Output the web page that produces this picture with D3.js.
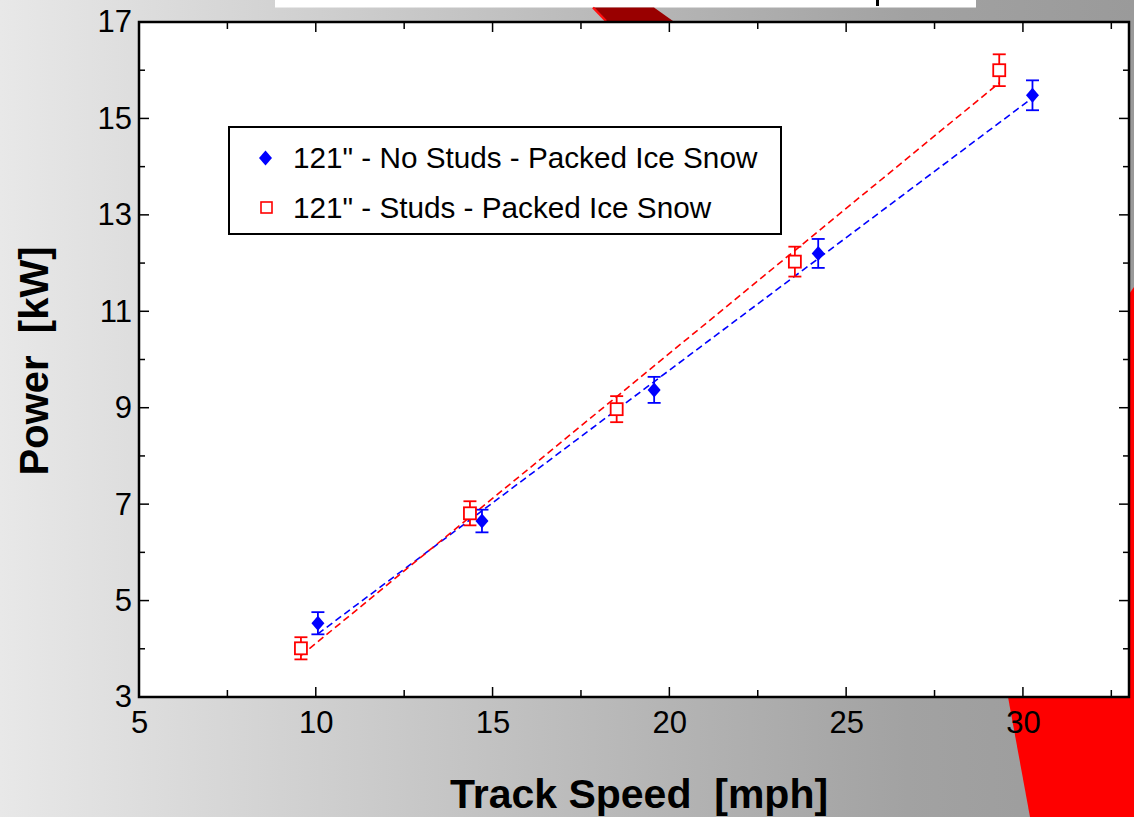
<!DOCTYPE html>
<html>
<head>
<meta charset="utf-8">
<script src="https://cdn.jsdelivr.net/npm/d3@7"></script>
<style>
  html, body { margin: 0; padding: 0; overflow: hidden; }
  svg { display: block; }
  text { font-family: "Liberation Sans", Arial, Helvetica, sans-serif; white-space: pre; }
</style>
</head>
<body>
<svg id="chart" width="1134" height="817"></svg>
<script>
// ---- data ----
const seriesNames = ['121" - No Studs - Packed Ice Snow', '121" - Studs - Packed Ice Snow'];
const speedNoStuds = [10.06, 14.70, 19.57, 24.21, 30.27];
const powerNoStuds = [4.53, 6.65, 9.37, 12.20, 15.48];
const errNoStuds   = [0.23, 0.235, 0.27, 0.30, 0.31];
const speedStuds   = [9.58, 14.36, 18.51, 23.55, 29.33];
const powerStuds   = [4.01, 6.81, 8.97, 12.03, 16.00];
const errStuds     = [0.23, 0.25, 0.27, 0.31, 0.33];
const xTickValues  = [5, 10, 15, 20, 25, 30];
const yTickValues  = [3, 5, 7, 9, 11, 13, 15, 17];
const xLabel = "Track Speed  [mph]";
const yLabel = "Power  [kW]";

(function () {
const W = 1134, H = 817;
const svg = d3.select("#chart");
const defs = svg.append("defs");
const grad = defs.append("linearGradient").attr("id", "bg").attr("x1", 0).attr("x2", 1).attr("y1", 0).attr("y2", 0);
grad.append("stop").attr("offset", 0).attr("stop-color", "#e8e8e8");
grad.append("stop").attr("offset", 0.35).attr("stop-color", "#c9c9c9");
grad.append("stop").attr("offset", 0.8).attr("stop-color", "#a2a2a2");
grad.append("stop").attr("offset", 1).attr("stop-color", "#9a9a9a");

svg.append("rect").attr("width", W).attr("height", H).attr("fill", "url(#bg)");

// decorative slide elements
svg.append("rect").attr("x", 275).attr("y", 0).attr("width", 701).attr("height", 7.5).attr("fill", "#ffffff");
svg.append("rect").attr("x", 876).attr("y", 0).attr("width", 3).attr("height", 6).attr("fill", "#000");
svg.append("path").attr("d", "M593,7.5 L654,7.5 L673,21 L606,21 Z").attr("fill", "#990000");
svg.append("path").attr("d", "M593,7.5 L606,21").attr("stroke", "#ff1010").attr("stroke-width", 2.5);
svg.append("path").attr("d", "M1134,287 L1127,297 L1008,697 L1030,817 L1134,817 Z").attr("fill", "#fe0000");

// ---- scales ----
const pL = 139, pR = 1129, pT = 22, pB = 697;
const x = d3.scaleLinear().domain([5, 33]).range([pL, pR]);
const y = d3.scaleLinear().domain([3, 17]).range([pB, pT]);

svg.append("rect").attr("x", pL).attr("y", pT).attr("width", pR - pL).attr("height", pB - pT)
  .attr("fill", "#fff");

// ticks (inward on all four sides)
const xMinor = d3.range(7.5, 33, 5);
const yMinor = d3.range(4, 17, 2);
const tickG = svg.append("g").attr("stroke", "#000").attr("stroke-width", 1.5);
function xt(vals, len) {
  vals.forEach(v => {
    tickG.append("line").attr("x1", x(v)).attr("x2", x(v)).attr("y1", pB).attr("y2", pB - len);
    tickG.append("line").attr("x1", x(v)).attr("x2", x(v)).attr("y1", pT).attr("y2", pT + len);
  });
}
function yt(vals, len) {
  vals.forEach(v => {
    tickG.append("line").attr("y1", y(v)).attr("y2", y(v)).attr("x1", pL).attr("x2", pL + len);
    tickG.append("line").attr("y1", y(v)).attr("y2", y(v)).attr("x1", pR).attr("x2", pR - len);
  });
}
xt(xTickValues.filter(v => v > 5), 10);
xt(xMinor, 7);
yt(yTickValues.filter(v => v > 3 && v < 17), 10);
yt(yMinor, 6);

const xAxis = svg.append("g").attr("transform", `translate(0,${pB})`)
  .call(d3.axisBottom(x).tickValues(xTickValues).tickSize(0).tickPadding(14));
xAxis.select(".domain").remove();
xAxis.selectAll("text").attr("font-size", 31).attr("fill", "#000")
  .style("font-family", '"Liberation Sans", Arial, sans-serif');

const yAxis = svg.append("g").attr("transform", `translate(${pL},0)`)
  .call(d3.axisLeft(y).tickValues(yTickValues).tickSize(0).tickPadding(7));
yAxis.select(".domain").remove();
yAxis.selectAll("text").attr("font-size", 31).attr("fill", "#000")
  .style("font-family", '"Liberation Sans", Arial, sans-serif');

svg.append("text").attr("x", 639).attr("y", 808).attr("text-anchor", "middle")
  .attr("font-size", 41).attr("font-weight", "bold").text(xLabel);
svg.append("text").attr("transform", "translate(48,361) rotate(-90)").attr("text-anchor", "middle")
  .attr("font-size", 40).attr("font-weight", "bold").text(yLabel);

// ---- series ----
const clip = defs.append("clipPath").attr("id", "clip");
clip.append("rect").attr("x", pL).attr("y", pT).attr("width", pR - pL).attr("height", pB - pT);
const plot = svg.append("g").attr("clip-path", "url(#clip)");

function fit(xs, ys) {
  const mx = d3.mean(xs), my = d3.mean(ys);
  let sxy = 0, sxx = 0;
  xs.forEach((v, i) => { sxy += (v - mx) * (ys[i] - my); sxx += (v - mx) * (v - mx); });
  const b = sxy / sxx, a = my - b * mx;
  const x0 = d3.min(xs), x1 = d3.max(xs);
  return [[x0, a + b * x0], [x1, a + b * x1]];
}

const series = [
  { xs: speedNoStuds, ys: powerNoStuds, es: errNoStuds, color: "#0000ff", shape: "diamond" },
  { xs: speedStuds, ys: powerStuds, es: errStuds, color: "#ff0000", shape: "square" }
];

const line = d3.line().x(d => x(d[0])).y(d => y(d[1]));
series.forEach(s => {
  plot.append("path").attr("d", line(fit(s.xs, s.ys))).attr("fill", "none")
    .attr("stroke", s.color).attr("stroke-width", 1.6).attr("stroke-dasharray", "7,4");
});

series.forEach(s => {
  const g = plot.append("g");
  s.xs.forEach((xv, i) => {
    const cx = x(xv), cy = y(s.ys[i]);
    const ye1 = y(s.ys[i] + s.es[i]), ye2 = y(s.ys[i] - s.es[i]);
    g.append("line").attr("x1", cx).attr("x2", cx).attr("y1", ye1).attr("y2", ye2)
      .attr("stroke", s.color).attr("stroke-width", 1.8);
    [ye1, ye2].forEach(yy => g.append("line").attr("x1", cx - 6.5).attr("x2", cx + 6.5)
      .attr("y1", yy).attr("y2", yy).attr("stroke", s.color).attr("stroke-width", 1.8));
    if (s.shape === "diamond") {
      g.append("path").attr("d", `M${cx},${cy - 7.5} L${cx + 6.5},${cy} L${cx},${cy + 7.5} L${cx - 6.5},${cy} Z`)
        .attr("fill", s.color);
    } else {
      g.append("rect").attr("x", cx - 6).attr("y", cy - 6).attr("width", 12).attr("height", 12)
        .attr("fill", "#fff").attr("stroke", s.color).attr("stroke-width", 1.8);
    }
  });
});

svg.append("rect").attr("x", pL).attr("y", pT).attr("width", pR - pL).attr("height", pB - pT)
  .attr("fill", "none").attr("stroke", "#000").attr("stroke-width", 2.5);

// ---- legend ----
const lg = svg.append("g");
lg.append("rect").attr("x", 229).attr("y", 127).attr("width", 552).attr("height", 107)
  .attr("fill", "#fff").attr("stroke", "#000").attr("stroke-width", 2);
lg.append("path").attr("d", "M265.5,150.5 L272,158 L265.5,165.5 L259,158 Z").attr("fill", series[0].color);
lg.append("rect").attr("x", 261).attr("y", 202).attr("width", 11).attr("height", 11)
  .attr("fill", "#fff").attr("stroke", series[1].color).attr("stroke-width", 1.6);
lg.append("text").attr("x", 293).attr("y", 168).attr("font-size", 29.7).text(seriesNames[0]);
lg.append("text").attr("x", 293).attr("y", 218).attr("font-size", 29.7).text(seriesNames[1]);
})();
</script>
</body>
</html>
